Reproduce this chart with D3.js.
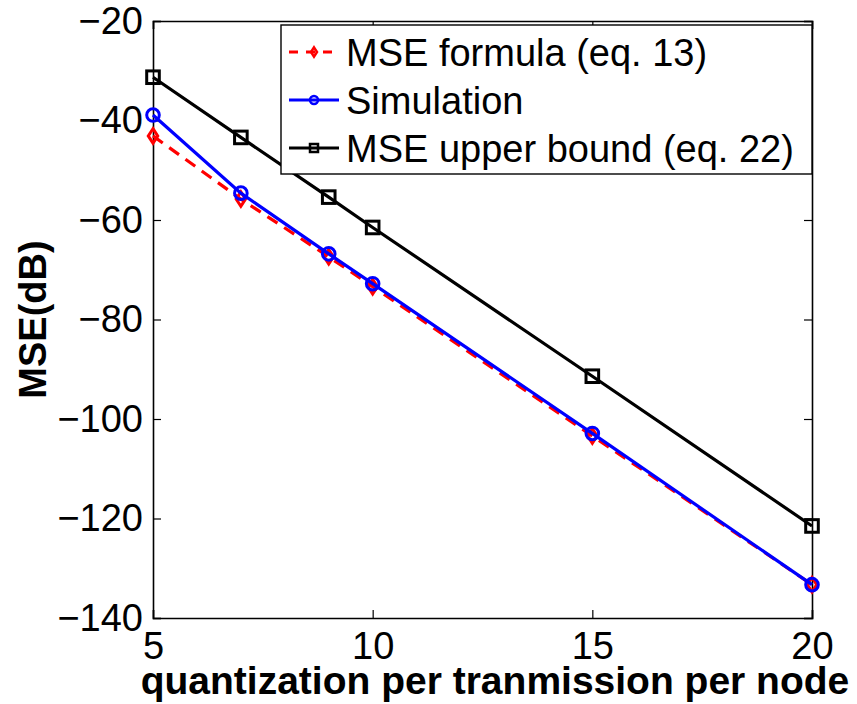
<!DOCTYPE html>
<html>
<head>
<meta charset="utf-8">
<script src="https://cdn.jsdelivr.net/npm/d3@7"></script>
<style>
  html, body { margin: 0; padding: 0; background: #fff; }
  svg { display: block; }
  text { font-family: "Liberation Sans", Arial, Helvetica, sans-serif; fill: #000; }
</style>
</head>
<body>
<svg id="chart" width="857" height="704"></svg>
<script>
// Bits of quantization per transmission per node
const bits = [5, 7, 9, 10, 15, 20];

// MSE in dB for each curve
const mseFormula = [-43.1, -55.8, -67.4, -73.4, -103.4, -133.3];
const simulation = [-38.9, -54.6, -66.8, -72.8, -102.9, -133.3];
const upperBound = [-31.3, -43.4, -55.4, -61.5, -91.4, -121.5];

const xTicks = [5, 10, 15, 20];
const yTicks = [-20, -40, -60, -80, -100, -120, -140];

const series = [
  { name: "MSE formula (eq. 13)", values: mseFormula, color: "#ff0000", dash: "12,8", marker: "diamond" },
  { name: "Simulation", values: simulation, color: "#0000ff", dash: null, marker: "circle" },
  { name: "MSE upper bound (eq. 22)", values: upperBound, color: "#000000", dash: null, marker: "square" }
];

const svg = d3.select("#chart");
const margin = { left: 153, right: 45, top: 21, bottom: 86 };
const W = 857, H = 704;
const x = d3.scaleLinear().domain([5, 20]).range([margin.left, W - margin.right]);
const y = d3.scaleLinear().domain([-140, -20]).range([H - margin.bottom, margin.top]);

const fs = 38;
const fmt = d => (d < 0 ? "\u2212" + Math.abs(d) : String(d));

// Axes: bottom/left with labels, top/right mirrored ticks only (boxed frame)
const tickLen = 8;
const gx = svg.append("g").attr("transform", `translate(0,${y(-140)})`)
  .call(d3.axisBottom(x).tickValues(xTicks).tickSize(-tickLen).tickPadding(14).tickFormat(fmt));
const gy = svg.append("g").attr("transform", `translate(${x(5)},0)`)
  .call(d3.axisLeft(y).tickValues(yTicks).tickSize(-tickLen).tickPadding(10).tickFormat(fmt));
const gxt = svg.append("g").attr("transform", `translate(0,${y(-20)})`)
  .call(d3.axisTop(x).tickValues(xTicks).tickSize(-tickLen).tickFormat(""));
const gyr = svg.append("g").attr("transform", `translate(${x(20)},0)`)
  .call(d3.axisRight(y).tickValues(yTicks).tickSize(-tickLen).tickFormat(""));

[gx, gy, gxt, gyr].forEach(g => {
  g.select(".domain").attr("stroke", "#000").attr("stroke-width", 1.6);
  g.selectAll(".tick line").attr("stroke", "#000").attr("stroke-width", 1.2);
  g.selectAll(".tick text").attr("font-size", fs).attr("font-family", "Liberation Sans, Arial, sans-serif").attr("fill", "#000");
});
gx.selectAll(".tick text").attr("dy", "0.71em");

// Axis titles
svg.append("text")
  .attr("x", 495).attr("y", 694)
  .attr("text-anchor", "middle")
  .attr("font-size", 39).attr("font-weight", "bold")
  .text("quantization per tranmission per node");

svg.append("text")
  .attr("transform", `translate(46,${(y(-20) + y(-140)) / 2}) rotate(-90)`)
  .attr("text-anchor", "middle")
  .attr("font-size", 38).attr("font-weight", "bold")
  .text("MSE(dB)");

// Marker shapes
function drawMarker(g, type, cx, cy, size, color, sw) {
  if (type === "circle") {
    g.append("circle").attr("cx", cx).attr("cy", cy).attr("r", size)
      .attr("fill", "none").attr("stroke", color).attr("stroke-width", sw);
  } else if (type === "square") {
    g.append("rect").attr("x", cx - size).attr("y", cy - size)
      .attr("width", 2 * size).attr("height", 2 * size)
      .attr("fill", "none").attr("stroke", color).attr("stroke-width", sw);
  } else {
    const w = size * 0.75, h = size * 1.15;
    g.append("path").attr("d", `M${cx},${cy - h}L${cx + w},${cy}L${cx},${cy + h}L${cx - w},${cy}Z`)
      .attr("fill", "none").attr("stroke", color).attr("stroke-width", sw);
  }
}

// Curves
const line = d3.line().x((d, i) => x(bits[i])).y(d => y(d));
series.forEach(s => {
  const g = svg.append("g");
  g.append("path").datum(s.values)
    .attr("d", line)
    .attr("fill", "none")
    .attr("stroke", s.color)
    .attr("stroke-width", 3.2)
    .attr("stroke-dasharray", s.dash);
  s.values.forEach((v, i) => drawMarker(g, s.marker, x(bits[i]), y(v), 6.3, s.color, 3));
});

// Legend
const lg = svg.append("g");
const lx0 = 281, ly0 = 25, lw = 531, lh = 149;
lg.append("rect").attr("x", lx0).attr("y", ly0).attr("width", lw).attr("height", lh)
  .attr("fill", "#fff").attr("stroke", "#000").attr("stroke-width", 1.4);
series.forEach((s, i) => {
  const cy = ly0 + 27 + i * 48;
  lg.append("line").attr("x1", lx0 + 8).attr("x2", lx0 + 58).attr("y1", cy).attr("y2", cy)
    .attr("stroke", s.color).attr("stroke-width", 3)
    .attr("stroke-dasharray", s.dash ? "9,8" : null);
  drawMarker(lg, s.marker, lx0 + 33, cy, 4, s.color, 2.5);
  lg.append("text").attr("x", lx0 + 65).attr("y", cy + 14)
    .attr("font-size", fs).text(s.name);
});
</script>
</body>
</html>
